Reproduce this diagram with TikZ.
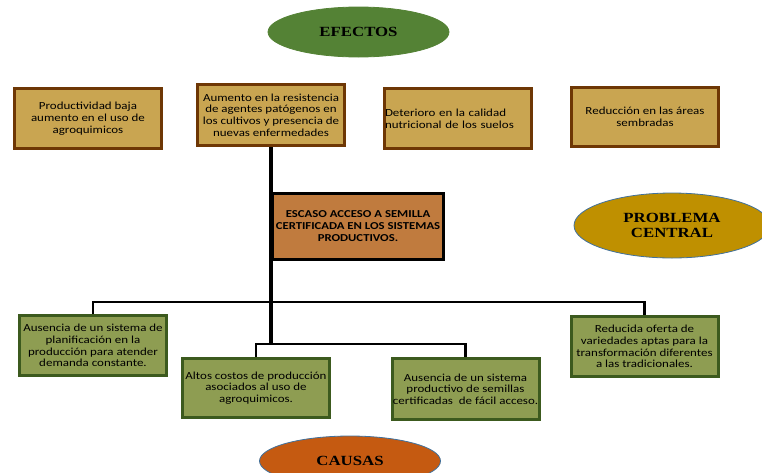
\documentclass[tikz,border=0pt]{standalone}
\usepackage{fontspec}
\setmainfont{Carlito}[FakeStretch=1.2]
\newfontfamily\serifb{Liberation Serif}[FakeStretch=1.2]
\usetikzlibrary{shapes.geometric}
\definecolor{tanfill}{RGB}{201,165,81}
\definecolor{brownline}{RGB}{110,55,5}
\definecolor{centralfill}{RGB}{192,123,62}
\definecolor{causefill}{RGB}{142,157,82}
\definecolor{causeline}{RGB}{60,90,30}
\definecolor{efgreen}{RGB}{84,130,53}
\definecolor{probgold}{RGB}{191,144,0}
\definecolor{causorange}{RGB}{197,90,17}
\definecolor{ellline}{RGB}{65,113,156}
\tikzset{
  txt/.style={font=\fontsize{10.8}{11.7}\selectfont, align=center, inner xsep=0pt, inner ysep=0pt},
  effbox/.style={txt, draw=brownline, fill=tanfill, line width=3pt, minimum width=147pt},
  causebox/.style={txt, draw=causeline, fill=causefill, line width=3pt, minimum width=147pt},
  centralbox/.style={draw=black, fill=centralfill, line width=3pt, minimum width=171pt, minimum height=66pt, inner sep=0pt, align=center, font=\bfseries\fontsize{10.6}{12}\selectfont},
  ell/.style={ellipse, inner sep=0pt, draw=ellline, line width=0.8pt, align=center, font=\serifb\bfseries\fontsize{14}{15}\selectfont},
  mainline/.style={line width=4pt},
  branch/.style={line width=2.5pt}
}
\begin{document}
\begin{tikzpicture}[x=1pt,y=-1pt]
\useasboundingbox (0,0) rectangle (762,472);
\clip (0,0) rectangle (762,472);
% effects
\node[effbox, minimum height=60pt] (e1) at (88,118.5) {Productividad baja\\aumento en el uso de\\agroquimicos};
\node[effbox, minimum height=61pt] (e2) at (271,115) {Aumento en la resistencia\\de agentes patógenos en\\los cultivos y presencia de\\nuevas enfermedades};
\node[effbox, minimum height=60pt, align=left, text width=146pt, inner xsep=0.5pt] (e3) at (458,118.5) {Deterioro en la calidad\\nutricional de los suelos};
\node[effbox, minimum height=59pt] (e4) at (645,117) {Reducción en las áreas\\sembradas};
% causes
\node[causebox, minimum height=60pt] (c1) at (93,345.5) {Ausencia de un sistema de\\planificación en la\\producción para atender\\demanda constante.};
\node[causebox, minimum height=59pt] (c2) at (256,388) {Altos costos de producción\\asociados al uso de\\agroquimicos.};
\node[causebox, minimum height=61pt] (c3) at (465.5,389) {Ausencia de un sistema\\productivo de semillas\\certificadas\ \ de fácil acceso.};
\node[causebox, minimum height=60pt] (c4) at (644.5,346.5) {Reducida oferta de\\variedades aptas para la\\transformación diferentes\\a las tradicionales.};
% connectors
\coordinate (j1) at (271,302);
\coordinate (j2) at (271,344);
\draw[mainline] (e2.south) -- (j2);
\draw[branch] (c1.north) |- (j1) -| (c4.north);
\draw[branch] (c2.north) |- (j2) -| (c3.north);
% central problem
\node[centralbox] (cp) at (358,226.5) {ESCASO ACCESO A SEMILLA\\CERTIFICADA EN LOS SISTEMAS\\PRODUCTIVOS.};
% ellipses
\node[ell, fill=efgreen, draw=efgreen, minimum width=181pt, minimum height=50pt] (ef) at (358.5,32) {EFECTOS};
\node[ell, fill=probgold, minimum width=196pt, minimum height=65pt] (pc) at (672,225.5) {PROBLEMA\\CENTRAL};
\node[ell, fill=causorange, minimum width=181pt, minimum height=50pt] (ca) at (350,461) {CAUSAS};
\end{tikzpicture}
\end{document}
